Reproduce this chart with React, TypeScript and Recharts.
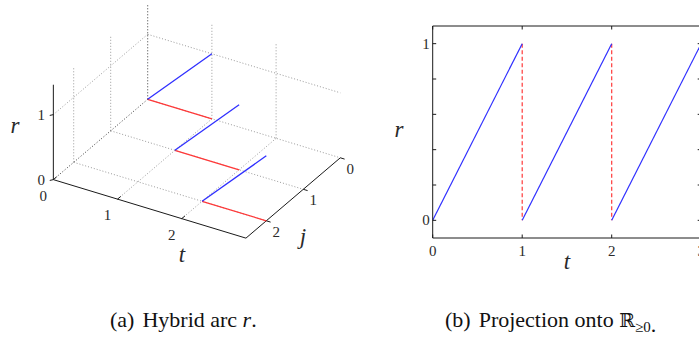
import React from 'react';
import { LineChart, Line, XAxis, YAxis, ReferenceLine } from 'recharts';

// ---- data: hybrid arc r(t, j) ----
const FLOW_T_START = [0, 1, 2];
const FLOW_T_END = [1, 2, 3];
const FLOW_J = [0, 1, 2];
const FLOW_R_START = [0, 0, 0];
const FLOW_R_END = [1, 1, 1];
const JUMP_T = [1, 2];
const JUMP_R_FROM = [1, 1];
const JUMP_R_TO = [0, 0];

// ---- ticks ----
const T_TICKS = [0, 1, 2, 3];
const T_TICK_LABELS_3D = [0, 1, 2];
const J_TICKS = [0, 1, 2];
const R_TICKS_3D = [0, 1];
const R_TICKS_2D = [0, 0.2, 0.4, 0.6, 0.8, 1];
const R_TICK_LABELS_2D = [0, 1];

// ---- 3D view (layout) ----
const T_MAX = 3;
const J_MAX = 2.55;
const R_MAX = 1.46;
const OX = 147.7, OY = 99.3, TX = 64.2, TY = 19.5, JX = -37, JY = 31.5, RZ = 65;
const P = (t: number, j: number, r: number) => ({ x: OX + t * TX + j * JX, y: OY + t * TY + j * JY - r * RZ });

const BLUE = '#2f2fff';
const RED = '#ff3838';
const GRID = '#9a9a9a';
const EDGE = '#3a3a3a';
const AX = '#1a1a1a';
const TXT = '#2a2a2a';
const SERIF = "'Liberation Serif', Times, 'Times New Roman', 'DejaVu Serif', serif";

const serifStyle: React.CSSProperties = { fontFamily: SERIF };
const italicStyle: React.CSSProperties = { fontFamily: SERIF, fontStyle: 'italic' };

const seg = (a: any, b: any, stroke: string, dash: string | undefined, key: string, w = 1) => (
  <ReferenceLine key={key} segment={[a, b]} stroke={stroke} strokeDasharray={dash} strokeWidth={w} ifOverflow="visible" />
);

function Chart3D() {
  const lines: any[] = [];
  [1, 2].forEach((t) => lines.push(seg(P(t, 0, 0), P(t, J_MAX, 0), GRID, '1 2', `fj${t}`)));
  J_TICKS.forEach((j) => lines.push(seg(P(0, j, 0), P(T_MAX, j, 0), GRID, '1 2', `ft${j}`)));
  [1, 2].forEach((j) => lines.push(seg(P(0, j, 0), P(0, j, R_MAX), GRID, '1 2', `lv${j}`)));
  lines.push(seg(P(0, 0, 1), P(0, J_MAX, 1), GRID, '1 2', 'lr1'));
  [1, 2].forEach((t) => lines.push(seg(P(t, 0, 0), P(t, 0, R_MAX), GRID, '1 2', `bv${t}`)));
  lines.push(seg(P(0, 0, 1), P(T_MAX, 0, 1), GRID, '1 2', 'br1'));
  lines.push(seg(P(0, 0, 0), P(0, J_MAX, 0), EDGE, '1 2', 'e1'));
  lines.push(seg(P(0, 0, 0), P(0, 0, R_MAX), EDGE, '1 2', 'e2'));
  lines.push(seg(P(0, J_MAX, 0), P(0, J_MAX, R_MAX), AX, undefined, 'ar'));
  lines.push(seg(P(0, J_MAX, 0), P(T_MAX, J_MAX, 0), AX, undefined, 'at'));
  lines.push(seg(P(T_MAX, J_MAX, 0), P(T_MAX, 0, 0), AX, undefined, 'aj'));
  T_TICKS.slice(0, 3).forEach((t) => {
    const a = P(t, J_MAX, 0);
    lines.push(seg(a, { x: a.x + 3.2, y: a.y - 2.7 }, AX, undefined, `tt${t}`));
  });
  J_TICKS.forEach((j) => {
    const a = P(T_MAX, j, 0);
    lines.push(seg(a, { x: a.x + 4.3, y: a.y + 1.3 }, AX, undefined, `tj${j}`));
  });
  R_TICKS_3D.forEach((r) => {
    const a = P(0, J_MAX, r);
    lines.push(seg(a, { x: a.x - 3.6, y: a.y + 0.8 }, AX, undefined, `tr${r}`));
  });

  return (
    <LineChart width={360} height={280} margin={{ top: 0, right: 0, bottom: 0, left: 0 }}>
      <XAxis type="number" dataKey="x" domain={[0, 360]} hide allowDataOverflow />
      <YAxis type="number" dataKey="y" domain={[0, 280]} reversed hide allowDataOverflow />
      {lines}
      {FLOW_T_START.map((t0, k) => (
        <Line
          key={`floor${k}`}
          data={[P(t0, FLOW_J[k], 0), P(FLOW_T_END[k], FLOW_J[k], 0)]}
          dataKey="y"
          stroke={RED}
          strokeWidth={1.3}
          dot={false}
          activeDot={false}
          isAnimationActive={false}
        />
      ))}
      {FLOW_T_START.map((t0, k) => (
        <Line
          key={`flow${k}`}
          data={[P(t0, FLOW_J[k], FLOW_R_START[k]), P(FLOW_T_END[k], FLOW_J[k], FLOW_R_END[k])]}
          dataKey="y"
          stroke={BLUE}
          strokeWidth={1.3}
          dot={false}
          activeDot={false}
          isAnimationActive={false}
        />
      ))}
    </LineChart>
  );
}

const BottomTick = (props: any) => {
  const { x, y, payload } = props;
  return (
    <g>
      <line x1={x} y1={y} x2={x} y2={y - 3.5} stroke={AX} />
      <text x={x} y={y + 18} textAnchor="middle" style={serifStyle} fontSize={15} fill={TXT}>
        {payload.value}
      </text>
    </g>
  );
};
const TopTick = (props: any) => {
  const { x, y } = props;
  return <line x1={x} y1={y} x2={x} y2={y + 3.5} stroke={AX} />;
};
const LeftTick = (props: any) => {
  const { x, y, payload } = props;
  return (
    <g>
      <line x1={x} y1={y} x2={x + 3.5} y2={y} stroke={AX} />
      {R_TICK_LABELS_2D.includes(payload.value) && (
        <text x={x - 3} y={y + 5} textAnchor="end" style={serifStyle} fontSize={15} fill={TXT}>
          {payload.value}
        </text>
      )}
    </g>
  );
};
const RightTick = (props: any) => {
  const { x, y } = props;
  return <line x1={x} y1={y} x2={x - 3.5} y2={y} stroke={AX} />;
};

function Chart2D() {
  return (
    <LineChart width={330} height={280} margin={{ top: 25, right: 7.8, bottom: 12, left: 0 }}>
      <XAxis xAxisId="b" type="number" dataKey="t" domain={[0, 3]} ticks={T_TICKS} allowDataOverflow
        axisLine={{ stroke: AX }} tickLine={false} tickSize={0} tickMargin={0} height={30} tick={<BottomTick />} interval={0} />
      <XAxis xAxisId="tp" orientation="top" type="number" dataKey="t" domain={[0, 3]} ticks={T_TICKS} allowDataOverflow
        axisLine={{ stroke: AX }} tickLine={false} tickSize={0} tickMargin={0} height={1} tick={<TopTick />} interval={0} />
      <YAxis yAxisId="l" type="number" domain={[-0.1, 1.1]} ticks={R_TICKS_2D} allowDataOverflow
        axisLine={{ stroke: AX }} tickLine={false} tickSize={0} tickMargin={0} width={52.7} tick={<LeftTick />} interval={0} />
      <YAxis yAxisId="r" orientation="right" type="number" domain={[-0.1, 1.1]} ticks={R_TICKS_2D} allowDataOverflow
        axisLine={{ stroke: AX }} tickLine={false} tickSize={0} tickMargin={0} width={1} tick={<RightTick />} interval={0} />
      {JUMP_T.map((t, k) => (
        <Line
          key={`jump${k}`}
          xAxisId="b"
          yAxisId="l"
          data={[{ t, r: JUMP_R_FROM[k] }, { t, r: JUMP_R_TO[k] }]}
          dataKey="r"
          stroke={RED}
          strokeWidth={1.2}
          strokeDasharray="4 2.5"
          dot={false}
          activeDot={false}
          isAnimationActive={false}
        />
      ))}
      {FLOW_T_START.map((t0, k) => (
        <Line
          key={`flow2d${k}`}
          xAxisId="b"
          yAxisId="l"
          data={[{ t: t0, r: FLOW_R_START[k] }, { t: FLOW_T_END[k], r: FLOW_R_END[k] }]}
          dataKey="r"
          stroke={BLUE}
          strokeWidth={1.2}
          dot={false}
          activeDot={false}
          isAnimationActive={false}
        />
      ))}
    </LineChart>
  );
}

function Labels() {
  const lab = (p: { x: number; y: number }, dx: number, dy: number) => ({ x: p.x + dx, y: p.y + dy });
  return (
    <svg width={699} height={343} style={{ position: 'absolute', left: 0, top: 0, pointerEvents: 'none' }}>
      <g style={serifStyle} fontSize={15} fill={TXT} textAnchor="middle">
        {R_TICKS_3D.map((r) => {
          const p = lab(P(0, J_MAX, r), -12, 5);
          return <text key={`lr${r}`} x={p.x} y={p.y} style={serifStyle}>{r}</text>;
        })}
        {T_TICK_LABELS_3D.map((t) => {
          const p = lab(P(t, J_MAX, 0), -10, 21);
          return <text key={`lt${t}`} x={p.x} y={p.y} style={serifStyle}>{t}</text>;
        })}
        {J_TICKS.map((j) => {
          const p = lab(P(T_MAX, j, 0), 10, 16);
          return <text key={`lj${j}`} x={p.x} y={p.y} style={serifStyle}>{j}</text>;
        })}
      </g>
      <g fontSize={23} fill={TXT} textAnchor="middle">
        <text x={15} y={133} style={italicStyle}>r</text>
        <text x={182} y={262} style={italicStyle}>t</text>
        <text x={303} y={244} style={italicStyle}>j</text>
        <text x={399} y={137} style={italicStyle}>r</text>
        <text x={567} y={269} style={italicStyle}>t</text>
      </g>
      <g fontSize={22} fill="#111">
        <text x={110} y={327} style={serifStyle}>
          (a)<tspan dx={8}>Hybrid arc </tspan>
          <tspan style={italicStyle}>r</tspan>.
        </text>
        <text x={445} y={327} style={serifStyle}>
          (b)<tspan dx={8}>Projection onto </tspan>
          <tspan style={{ fontFamily: "'DejaVu Serif', serif" }} fontSize={19}>ℝ</tspan>
          <tspan fontSize={15} dy={5}>≥0</tspan>.
        </text>
      </g>
    </svg>
  );
}

export default function App() {
  return (
    <div style={{ position: 'absolute', left: 0, top: 0, width: 699, height: 343, overflow: 'hidden', background: '#fff' }}>
      <div style={{ position: 'absolute', left: 0, top: 0 }}>
        <Chart3D />
      </div>
      <div style={{ position: 'absolute', left: 380, top: 0 }}>
        <Chart2D />
      </div>
      <Labels />
    </div>
  );
}
